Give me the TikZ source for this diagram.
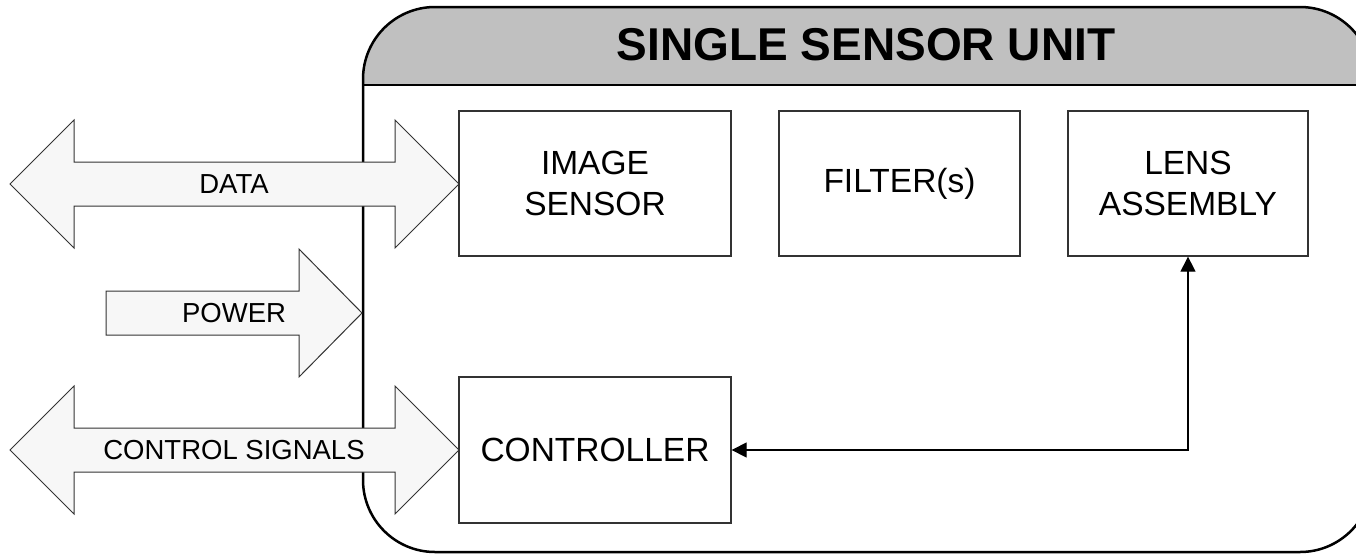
\documentclass[tikz,border=0pt]{standalone}
\usepackage{fontspec}
\setmainfont{Liberation Sans}
\usetikzlibrary{arrows.meta}
\definecolor{hdrgray}{HTML}{C0C0C0}
\definecolor{arrfill}{HTML}{F7F7F7}
\definecolor{edgegray}{HTML}{333333}
\tikzset{
  unitborder/.style={draw=black, line width=2.5pt},
  blockbox/.style={draw=edgegray, line width=1.3pt, fill=white, inner sep=0pt,
    align=center, font=\fontsize{33.5}{41}\selectfont},
  blockarrow/.style={draw=edgegray, line width=1pt, fill=arrfill, line join=miter},
  arrlabel/.style={inner sep=0pt, font=\fontsize{27.5}{33}\selectfont},
  conn/.style={draw=black, line width=1.3pt,
    {Triangle[length=15pt,width=15pt]}-{Triangle[length=15pt,width=15pt]}},
}
\begin{document}
\begin{tikzpicture}[x=1pt,y=-1pt]
\useasboundingbox (0,0) rectangle (1356,554);
\clip (0,0) rectangle (1356,554);
% unit
\begin{scope}
  \clip[rounded corners=72pt] (363,7) rectangle (1372,552);
  \fill[hdrgray] (363,7) rectangle (1372,85);
\end{scope}
\draw[unitborder] (363,85) -- (1372,85);
\draw[unitborder, rounded corners=72pt] (363,7) rectangle (1372,552);
\node[inner sep=0pt, font=\fontsize{46}{55}\selectfont\bfseries] (title) at (866,45) {SINGLE SENSOR UNIT};
% blocks
\node[blockbox, minimum width=272pt, minimum height=145pt] (img) at (595,183.5) {IMAGE\\SENSOR};
\node[blockbox, minimum width=241pt, minimum height=145pt] (filt) at (899.5,183.5) {FILTER(s)};
\node[blockbox, minimum width=240pt, minimum height=145pt] (lens) at (1188,183.5) {LENS\\ASSEMBLY};
\node[blockbox, minimum width=272pt, minimum height=146pt] (ctrl) at (595,450) {CONTROLLER};
% block arrows
\draw[blockarrow] (10,184) -- (74,120) -- (74,162) -- (395,162) -- (395,120) -- (459,184)
  -- (395,248) -- (395,206) -- (74,206) -- (74,248) -- cycle;
\node[arrlabel] (dataL) at (234,184) {DATA};
\draw[blockarrow] (106,291) -- (299,291) -- (299,249) -- (362,313) -- (299,377)
  -- (299,335) -- (106,335) -- cycle;
\node[arrlabel] (powerL) at (234,313) {POWER};
\draw[blockarrow] (10,450) -- (74,386) -- (74,428) -- (395,428) -- (395,386) -- (459,450)
  -- (395,514) -- (395,472) -- (74,472) -- (74,514) -- cycle;
\node[arrlabel] (ctrlL) at (234,450) {CONTROL SIGNALS};
% connector
\draw[conn] (lens.south) |- (ctrl.east);
\end{tikzpicture}
\end{document}
